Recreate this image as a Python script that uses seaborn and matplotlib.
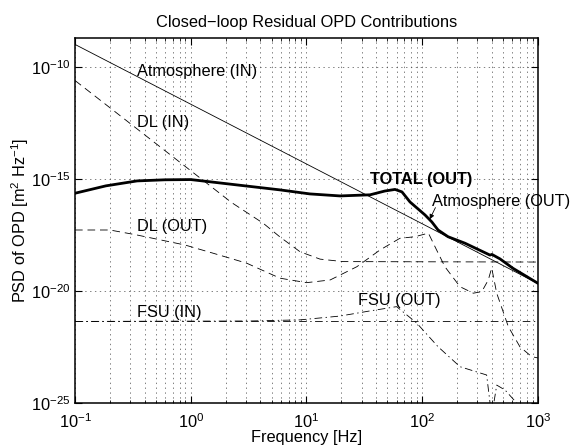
import numpy as np
import matplotlib
matplotlib.use('Agg')
import matplotlib.pyplot as plt
import seaborn as sns

# ── Data: frequency [Hz], PSD given as log10 ──
atm_in_f = [0.1, 1000]
atm_in_log = [-9.0, -19.67]

dl_in_f = [0.1, 0.445, 2.26, 4.23, 5.9, 8.79, 13.1, 20.7, 1000]
dl_in_log = [-10.61, -13.22, -16.06, -16.98, -17.59, -18.25, -18.58, -18.69, -18.71]

dl_out_f = [0.1, 0.2, 0.341, 0.892, 1.57, 3.04, 5.9, 10.0, 16, 27.2, 43.2, 64.1,
            86.5, 113, 133, 157, 212, 276, 327, 372, 398, 440, 554, 698, 881, 1000]
dl_out_log = [-17.28, -17.28, -17.5, -17.95, -18.32, -18.76, -19.43, -19.63, -19.51,
              -18.92, -18.17, -17.65, -17.58, -17.42, -18.17, -18.92, -19.81, -20.10,
              -20.03, -19.51, -18.97, -20.10, -21.59, -22.49, -22.93, -22.99]

fsu_in_f = [0.1, 1000]
fsu_in_log = [-21.34, -21.34]

fsu_out_f = [0.1, 3.25, 8.8, 19.5, 35.4, 60.1, 89.5, 137, 212, 360, 398, 440, 519, 655, 1000]
fsu_out_log = [-21.36, -21.34, -21.29, -21.12, -20.89, -20.70, -21.43, -22.49, -23.38,
               -23.75, -25.6, -24.2, -24.42, -25.0, -25.6]

total_f = [0.1, 0.185, 0.344, 0.6, 1.0, 1.47, 2.94, 5.9, 10.7, 19.5, 35.4, 47.6, 58.2,
           66.8, 78.4, 105.7, 121, 137, 167, 234, 385, 400, 470, 608, 1000]
total_log = [-15.64, -15.31, -15.09, -15.04, -15.03, -15.13, -15.31, -15.49, -15.67,
             -15.76, -15.71, -15.54, -15.47, -15.58, -16.03, -16.61, -16.92, -17.28,
             -17.58, -17.87, -18.40, -18.37, -18.57, -18.99, -19.66]

# ── Style ────────────────────────────────────────────────
sns.set_style('ticks')
plt.rcParams['font.family'] = ['Liberation Sans', 'DejaVu Sans']
plt.rcParams['mathtext.fontset'] = 'custom'
plt.rcParams['mathtext.rm'] = 'Liberation Sans'
plt.rcParams['mathtext.it'] = 'Liberation Sans:italic'
plt.rcParams['mathtext.bf'] = 'Liberation Sans:bold'
plt.rcParams['lines.scale_dashes'] = False
plt.rcParams['text.color'] = 'black'
plt.rcParams['axes.labelcolor'] = 'black'
plt.rcParams['axes.titlecolor'] = 'black'

FS = 11.8

fig = plt.figure(figsize=(5.73, 4.47), dpi=100)
ax = fig.add_axes([0.1309, 0.0984, 0.808, 0.8173])

dash = (0, (5.5, 3.5))
dashdot = (0, (5.5, 2.5, 1.0, 2.5))


def draw(f, logv, **kw):
    sns.lineplot(x=f, y=10.0 ** np.array(logv), ax=ax, color='k',
                 estimator=None, sort=False, **kw)


draw(atm_in_f, atm_in_log, lw=0.6)
draw(dl_in_f, dl_in_log, lw=0.6, linestyle=dash)
draw(dl_out_f, dl_out_log, lw=0.6, linestyle=dash)
draw(fsu_in_f, fsu_in_log, lw=0.6, linestyle=dashdot)
draw(fsu_out_f, fsu_out_log, lw=0.6, linestyle=dashdot)
draw(total_f, total_log, lw=2.0)

ax.set_xscale('log')
ax.set_yscale('log')
ax.set_xlim(0.1, 1000)
ax.set_ylim(1e-25, 2e-9)
ax.set_yticks([1e-25, 1e-20, 1e-15, 1e-10])
ax.yaxis.set_minor_locator(matplotlib.ticker.NullLocator())

ax.grid(True, which='both', axis='x', color='0.3', lw=0.5, linestyle=(0, (1, 2.5)))
ax.grid(True, which='major', axis='y', color='0.3', lw=0.5, linestyle=(0, (1, 2.5)))

ax.tick_params(which='both', direction='in', top=True, right=True, labelsize=FS,
               colors='k', labelcolor='k')
ax.tick_params(which='major', length=5, width=0.8)
ax.tick_params(which='minor', length=2.5, width=0.6)
ax.tick_params(axis='x', which='both', pad=7)
ax.tick_params(axis='y', which='both', pad=3)
for s in ax.spines.values():
    s.set_linewidth(1.1)
    s.set_color('k')

ax.set_title('Closed\u2212loop Residual OPD Contributions', fontsize=FS, pad=8)
ax.set_xlabel('Frequency [Hz]', fontsize=FS, labelpad=-1)
ax.set_ylabel('PSD of OPD [m$^2$ Hz$^{-1}$]', fontsize=FS, labelpad=0)

# ── Curve labels ─────────────────────────────────────────
txt = dict(fontsize=FS, ha='left', va='center', color='k')
ax.text(0.343, 10 ** -10.21, 'Atmosphere (IN)', **txt)
ax.text(0.343, 10 ** -12.5, 'DL (IN)', **txt)
ax.text(35.4, 10 ** -15.04, 'TOTAL (OUT)', fontweight='bold', **txt)
ax.text(121, 10 ** -16.01, 'Atmosphere (OUT)', **txt)
ax.text(0.345, 10 ** -17.13, 'DL (OUT)', **txt)
ax.text(0.345, 10 ** -20.98, 'FSU (IN)', **txt)
ax.text(27.9, 10 ** -20.43, 'FSU (OUT)', **txt)
ax.annotate('', xy=(116, 10 ** -16.8), xytext=(130, 10 ** -16.28),
            arrowprops=dict(arrowstyle='-|>', lw=0.6, color='k', mutation_scale=7,
                            shrinkA=0, shrinkB=0))

plt.savefig('out.png', dpi=100)
